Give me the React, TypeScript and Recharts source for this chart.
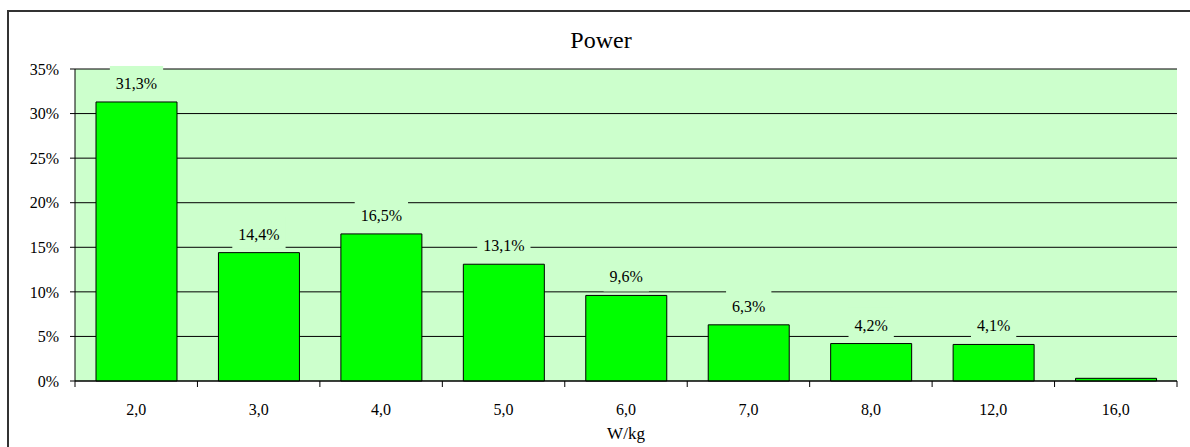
import React from 'react';
import { BarChart, Bar, XAxis, YAxis, CartesianGrid, LabelList } from 'recharts';

const categories = ['2,0', '3,0', '4,0', '5,0', '6,0', '7,0', '8,0', '12,0', '16,0'];
const shares = [31.3, 14.4, 16.5, 13.1, 9.6, 6.3, 4.2, 4.1, 0.3];
const yTicks = [0, 5, 10, 15, 20, 25, 30, 35];
const labelVisible = [true, true, true, true, true, true, true, true, false];

const data = categories.map((cat, i) => ({ cat, share: shares[i], show: labelVisible[i] }));

const FONT = 'Liberation Serif';
const W = 1190;
const H = 447;
const MARGIN = { top: 69, right: 13, bottom: 0, left: 0 };
const Y_AXIS_W = 75;
const X_AXIS_H = 66;
const PLOT_W = W - MARGIN.left - MARGIN.right - Y_AXIS_W;

const fmtPct = (v: number) => v.toFixed(1).replace('.', ',') + '%';

const XTick = (props: any) => {
  const { x, y, payload, index } = props;
  const half = typeof payload?.offset === 'number' && payload.offset > 0 ? payload.offset : PLOT_W / categories.length / 2;
  return (
    <g>
      {index === 0 && <line x1={x - half} y1={y} x2={x - half} y2={y + 6} stroke="#000" strokeWidth={1} />}
      <line x1={x + half} y1={y} x2={x + half} y2={y + 6} stroke="#000" strokeWidth={1} />
      <text x={x} y={y + 34} textAnchor="middle" fontSize={16} style={{ fontFamily: FONT }} fill="#000">
        {payload.value}
      </text>
    </g>
  );
};

const renderLabel = (props: any) => {
  const { x, y, width, value, index } = props;
  if (!data[index]?.show) return null;
  const text = fmtPct(Number(value));
  const digits = text.replace(/[^0-9]/g, '').length;
  const tw = digits * 8 + 4 + 13.3;
  const cx = Number(x) + Number(width) / 2;
  const base = Number(y) - 13;
  return (
    <g>
      <rect x={cx - tw / 2 - 6} y={base - 23} width={tw + 12} height={32} fill="#CCFFCC" />
      <text x={cx} y={base} textAnchor="middle" fontSize={16} style={{ fontFamily: FONT }} fill="#000">
        {text}
      </text>
    </g>
  );
};

export default function App() {
  return (
    <div style={{ position: 'fixed', left: 0, top: 0, width: W, height: H, background: '#fff', overflow: 'hidden', fontFamily: FONT }}>
      <div
        style={{
          position: 'absolute',
          left: 7,
          top: 10,
          right: 0,
          bottom: 0,
          borderTop: '2px solid #333',
          borderLeft: '2px solid #333',
        }}
      />
      <div style={{ position: 'absolute', left: 0, top: 0 }}>
        <BarChart width={W} height={H} data={data} margin={MARGIN} style={{ fontFamily: FONT }}>
          <CartesianGrid vertical={false} stroke="#000" fill="#CCFFCC" fillOpacity={1} />
          <XAxis
            xAxisId="top"
            orientation="top"
            dataKey="cat"
            height={0}
            tick={false}
            tickLine={false}
            axisLine={{ stroke: '#808080' }}
          />
          <YAxis
            yAxisId="right"
            orientation="right"
            width={0}
            domain={[0, 35]}
            ticks={yTicks}
            tick={false}
            tickLine={false}
            axisLine={{ stroke: '#808080' }}
          />
          <XAxis
            dataKey="cat"
            height={X_AXIS_H}
            tickLine={false}
            tickSize={0}
            tickMargin={0}
            axisLine={{ stroke: '#000' }}
            tick={<XTick />}
            interval={0}
            label={{ value: 'W/kg', position: 'insideBottom', offset: 8, fontSize: 17, style: { fontFamily: FONT }, fill: '#000' }}
          />
          <YAxis
            width={Y_AXIS_W}
            domain={[0, 35]}
            ticks={yTicks}
            tickFormatter={(v: number) => `${v}%`}
            tickSize={5}
            tickMargin={11}
            axisLine={{ stroke: '#000' }}
            tickLine={{ stroke: '#000' }}
            tick={{ fontSize: 16, style: { fontFamily: FONT }, fill: '#000' }}
            interval={0}
          />
          <Bar dataKey="share" fill="#00FF00" stroke="#000" strokeWidth={1} barSize={81} isAnimationActive={false}>
            <LabelList dataKey="share" content={renderLabel} />
          </Bar>
        </BarChart>
      </div>
      <svg width={W} height={60} style={{ position: 'absolute', left: 0, top: 0, pointerEvents: 'none' }}>
        <text x={601} y={48} textAnchor="middle" fontSize={24} style={{ fontFamily: FONT }} fill="#000">
          Power
        </text>
      </svg>
    </div>
  );
}
